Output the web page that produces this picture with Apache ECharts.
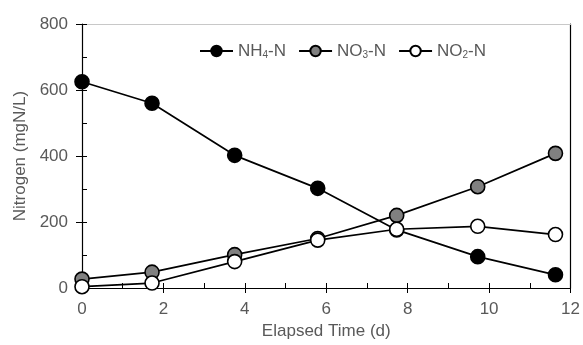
<!DOCTYPE html>
<html><head><meta charset="utf-8">
<script src="https://cdn.jsdelivr.net/npm/echarts@6/dist/echarts.min.js"></script>
<style>html,body{margin:0;padding:0;background:#fff}#c{width:583px;height:345px}</style>
</head><body><div id="c"></div>
<script>
const times = [0, 1.72, 3.75, 5.79, 7.73, 9.72, 11.63];
const nh4 = [625, 560, 402, 302, 176, 95, 40];
const no3 = [27, 48, 101, 150, 220, 307, 408];
const no2 = [4, 15, 80, 145, 178, 187, 162];
const xTicks = [0, 2, 4, 6, 8, 10, 12];
const yTicks = [0, 200, 400, 600, 800];
const names = ['NH4-N', 'NO3-N', 'NO2-N'];

const font = 'Liberation Sans, Arial, sans-serif';
const gray = '#595959';
const fs = 17;
const pts = arr => times.map((t, i) => [t, arr[i]]);
const mk = (name, data, fill) => ({
  name, type: 'line', data: pts(data), xAxisIndex: 0, yAxisIndex: 0,
  symbol: 'circle', symbolSize: 14, showSymbol: true,
  lineStyle: { color: '#000', width: 1.7 },
  itemStyle: { color: fill, borderColor: '#000', borderWidth: 1.6 },
  emphasis: { disabled: true }, animation: false
});
const chart = echarts.init(document.getElementById('c'));
chart.setOption({
  animation: false,
  grid: { left: 82, right: 12, top: 24, bottom: 57 },
  legend: {
    top: 36, left: 194, itemGap: 12, itemWidth: 33, itemHeight: 13,
    data: names,
    formatter: n => '{a|' + n.slice(0, 2) + '}{s|' + n.slice(2, 3) + '}{a|' + n.slice(3) + '}',
    textStyle: {
      fontFamily: font, color: gray, fontSize: fs,
      rich: {
        a: { fontFamily: font, color: gray, fontSize: fs, lineHeight: 18 },
        s: { fontFamily: font, color: gray, fontSize: 10, lineHeight: 18, verticalAlign: 'bottom', padding: [9, 0, 0, 0] }
      }
    }
  },
  xAxis: [
    { type: 'value', min: 0, max: 12, interval: 2, position: 'bottom',
      name: 'Elapsed Time (d)', nameLocation: 'middle', nameGap: 35,
      nameTextStyle: { fontFamily: font, color: gray, fontSize: fs },
      axisLine: { show: true, onZero: false, lineStyle: { color: '#000', width: 1.2 } },
      axisTick: { show: true, length: 5, lineStyle: { color: '#000' } },
      axisLabel: { fontFamily: font, color: gray, fontSize: fs, margin: 13,
        customValues: xTicks },
      splitLine: { show: false } },
    { type: 'value', min: 0, max: 12, interval: 1, position: 'bottom',
      axisLine: { show: false, onZero: false },
      axisTick: { show: true, inside: true, length: 5, lineStyle: { color: '#000' } },
      axisLabel: { show: false }, splitLine: { show: false } },
    { type: 'value', min: 0, max: 12, position: 'top',
      axisLine: { show: true, onZero: false, lineStyle: { color: '#c8c8c8', width: 1 } },
      axisTick: { show: false }, axisLabel: { show: false }, splitLine: { show: false } }
  ],
  yAxis: [
    { type: 'value', min: 0, max: 800, interval: 200, position: 'left',
      name: 'Nitrogen (mgN/L)', nameLocation: 'middle', nameGap: 47,
      nameTextStyle: { fontFamily: font, color: gray, fontSize: fs },
      axisLine: { show: true, onZero: false, lineStyle: { color: '#000', width: 1.2 } },
      axisTick: { show: true, length: 6, lineStyle: { color: '#000' } },
      axisLabel: { fontFamily: font, color: gray, fontSize: fs, margin: 14,
        customValues: yTicks },
      splitLine: { show: false } },
    { type: 'value', min: 0, max: 800, interval: 100, position: 'left',
      axisLine: { show: false, onZero: false },
      axisTick: { show: true, inside: true, length: 5, lineStyle: { color: '#000' } },
      axisLabel: { show: false }, splitLine: { show: false } },
    { type: 'value', min: 0, max: 800, position: 'right',
      axisLine: { show: true, onZero: false, lineStyle: { color: '#000', width: 1.2 } },
      axisTick: { show: false }, axisLabel: { show: false }, splitLine: { show: false } }
  ],
  series: [
    mk(names[0], nh4, '#000000'),
    mk(names[1], no3, '#808080'),
    mk(names[2], no2, '#ffffff')
  ]
});
</script></body></html>
